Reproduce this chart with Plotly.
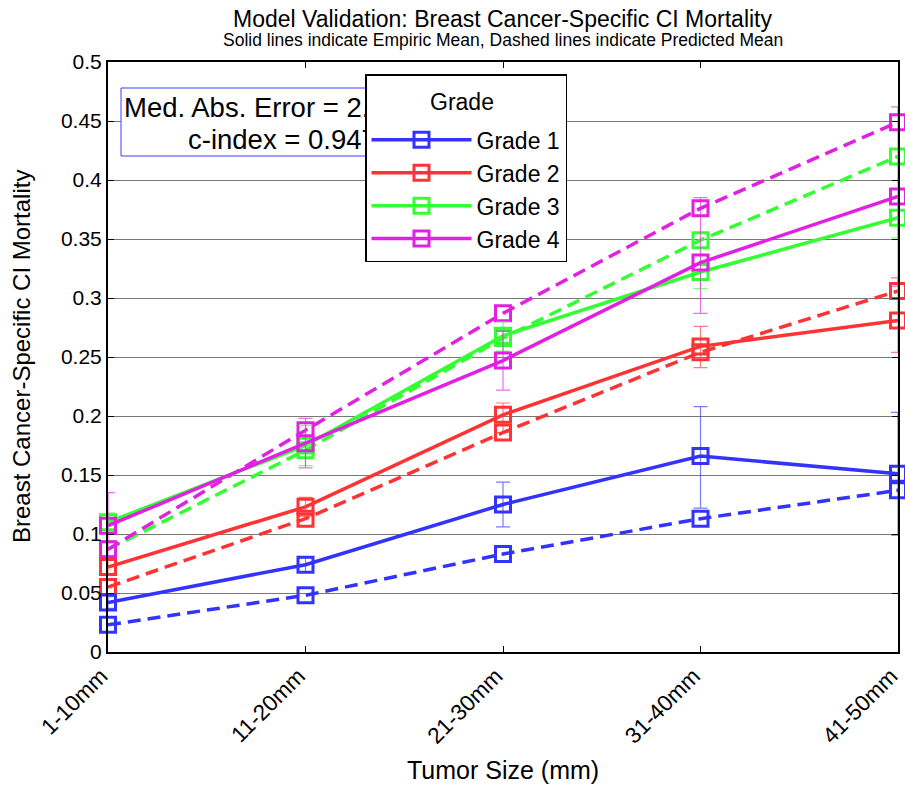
import plotly.graph_objects as go

categories = ["1-10mm", "11-20mm", "21-30mm", "31-40mm", "41-50mm"]
grades = ["Grade 1", "Grade 2", "Grade 3", "Grade 4"]

empiric = {
    "Grade 1": [0.042, 0.074, 0.125, 0.166, 0.151],
    "Grade 2": [0.072, 0.123, 0.201, 0.259, 0.281],
    "Grade 3": [0.110, 0.175, 0.268, 0.322, 0.368],
    "Grade 4": [0.107, 0.177, 0.247, 0.330, 0.386],
}
predicted = {
    "Grade 1": [0.023, 0.048, 0.083, 0.113, 0.137],
    "Grade 2": [0.055, 0.113, 0.186, 0.254, 0.306],
    "Grade 3": [0.087, 0.171, 0.266, 0.349, 0.420],
    "Grade 4": [0.087, 0.188, 0.287, 0.376, 0.449],
}
ci_upper = {
    "Grade 1": [0.047, 0.080, 0.144, 0.208, 0.203],
    "Grade 2": [0.078, 0.131, 0.211, 0.276, 0.317],
    "Grade 3": [0.118, 0.192, 0.280, 0.337, 0.385],
    "Grade 4": [0.135, 0.198, 0.272, 0.385, 0.462],
}
ci_lower = {
    "Grade 1": [0.037, 0.068, 0.106, 0.122, 0.099],
    "Grade 2": [0.066, 0.115, 0.186, 0.241, 0.254],
    "Grade 3": [0.102, 0.158, 0.255, 0.308, 0.351],
    "Grade 4": [0.080, 0.156, 0.222, 0.287, 0.310],
}
yticks = [0, 0.05, 0.1, 0.15, 0.2, 0.25, 0.3, 0.35, 0.4, 0.45, 0.5]
yticklabels = ["0", "0.05", "0.1", "0.15", "0.2", "0.25", "0.3", "0.35", "0.4", "0.45", "0.5"]

colors = {
    "Grade 1": (51, 51, 255),
    "Grade 2": (255, 51, 51),
    "Grade 3": (51, 255, 51),
    "Grade 4": (226, 32, 226),
}

FONT = "Liberation Sans, Arial, sans-serif"
xs = list(range(len(categories)))

# pixel helpers for paper coordinates (plot area: x 108..898, y 62..652)
def px(x):
    return (x - 108) / 790

def py(y):
    return (652 - y) / 590

fig = go.Figure()

# dashed predicted lines
for g in grades:
    r, gg, b = colors[g]
    c = f"rgb({r},{gg},{b})"
    fig.add_trace(go.Scatter(
        x=xs, y=predicted[g], mode="lines+markers", showlegend=False,
        line=dict(color=c, width=3.5, dash="13px,7px"),
        marker=dict(symbol="square-open", size=15, color=c, line=dict(width=3, color=c)),
        cliponaxis=False, hoverinfo="skip",
    ))

# solid empiric lines with CI bars
for g in grades:
    r, gg, b = colors[g]
    c = f"rgb({r},{gg},{b})"
    up = [u - m for u, m in zip(ci_upper[g], empiric[g])]
    lo = [m - l for m, l in zip(empiric[g], ci_lower[g])]
    fig.add_trace(go.Scatter(
        x=xs, y=empiric[g], mode="lines+markers", name=g,
        line=dict(color=c, width=3.5),
        marker=dict(symbol="square-open", size=15, color=c, line=dict(width=3, color=c)),
        error_y=dict(type="data", symmetric=False, array=up, arrayminus=lo,
                     color=f"rgba({r},{gg},{b},0.65)", thickness=1.2, width=7),
        cliponaxis=False,
    ))

fig.update_layout(
    width=905, height=811,
    margin=dict(l=108, r=7, t=62, b=159, autoexpand=False),
    paper_bgcolor="white", plot_bgcolor="white",
    font=dict(family=FONT, color="black", size=20),
    showlegend=True,
    legend=dict(
        x=px(365), y=py(74), xanchor="left", yanchor="top",
        bgcolor="white", bordercolor="black", borderwidth=1.5,
        font=dict(size=23, family=FONT),
        title=dict(text="&nbsp;", side="top center",
                   font=dict(size=33, family=FONT, color="rgba(0,0,0,0)")),
        itemwidth=100,
    ),
    xaxis=dict(
        range=[0, 4], tickmode="array", tickvals=xs, ticktext=categories,
        tickangle=-45, ticks="inside", ticklen=6, tickcolor="black",
        showline=True, linecolor="black", linewidth=2, mirror="ticks",
        showgrid=False, zeroline=False, tickfont=dict(size=22.5, family=FONT),
        ticklabeloverflow="allow", automargin=False, ticklabelshift=-7,
    ),
    yaxis=dict(
        range=[0, 0.5], tickmode="array", tickvals=yticks, ticktext=yticklabels,
        ticks="inside", ticklen=6, tickcolor="black",
        showline=True, linecolor="black", linewidth=2, mirror="ticks",
        showgrid=True, gridcolor="rgb(120,120,120)", gridwidth=1.2,
        zeroline=False, tickfont=dict(size=21, family=FONT), automargin=False,
    ),
    shapes=[
        dict(type="rect", xref="paper", yref="paper",
             x0=px(121), x1=px(430), y0=py(156), y1=py(88),
             line=dict(color="rgb(60,60,255)", width=1), fillcolor="white", layer="above"),
    ],
    annotations=[
        dict(text="Model Validation: Breast Cancer-Specific CI Mortality",
             xref="paper", yref="paper", x=0.5, y=py(19),
             xanchor="center", yanchor="middle", showarrow=False,
             font=dict(size=23, family=FONT)),
        dict(text="Solid lines indicate Empiric Mean, Dashed lines indicate Predicted Mean",
             xref="paper", yref="paper", x=0.5, y=py(40),
             xanchor="center", yanchor="middle", showarrow=False,
             font=dict(size=17.5, family=FONT)),
        dict(text="Breast Cancer-Specific CI Mortality",
             xref="paper", yref="paper", x=px(21), y=0.5,
             xanchor="center", yanchor="middle", textangle=-90, showarrow=False,
             font=dict(size=24, family=FONT)),
        dict(text="Tumor Size (mm)",
             xref="paper", yref="paper", x=0.5, y=py(770),
             xanchor="center", yanchor="middle", showarrow=False,
             font=dict(size=25, family=FONT)),
        dict(text="Grade",
             xref="paper", yref="paper", x=px(462), y=py(102),
             xanchor="center", yanchor="middle", showarrow=False,
             font=dict(size=23, family=FONT)),
        dict(text="Med. Abs. Error = 2.1%",
             xref="paper", yref="paper", x=px(123), y=py(107),
             xanchor="left", yanchor="middle", showarrow=False,
             width=241, align="left", borderpad=0,
             font=dict(size=27.5, family=FONT)),
        dict(text="c-index = 0.947",
             xref="paper", yref="paper", x=px(187), y=py(139),
             xanchor="left", yanchor="middle", showarrow=False,
             width=177, align="left", borderpad=0,
             font=dict(size=27.5, family=FONT)),
    ],
)

fig.write_html("out.html")
